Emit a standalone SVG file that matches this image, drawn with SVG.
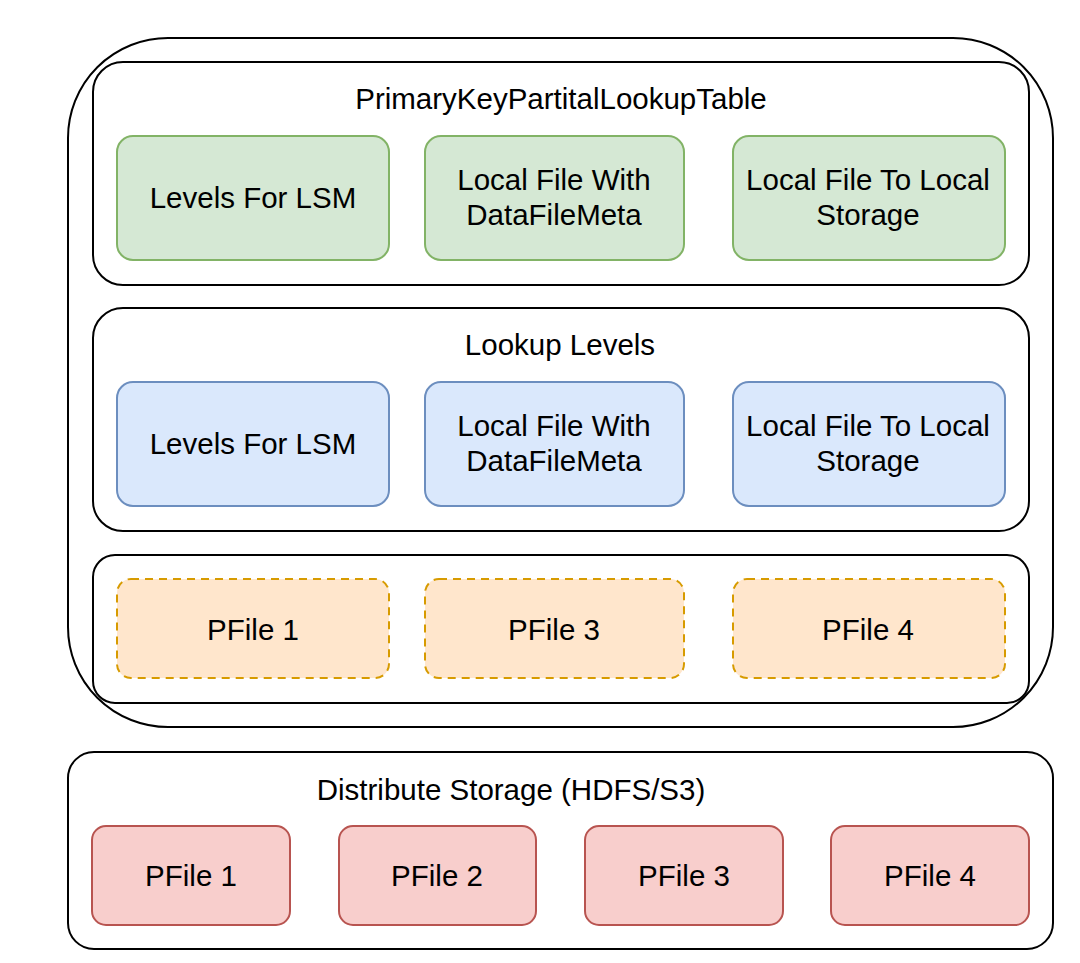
<svg xmlns="http://www.w3.org/2000/svg" width="1080" height="963" viewBox="0 0 1080 963">
<style>
text{font-family:"Liberation Sans",Arial,Helvetica,sans-serif;font-size:29.5px;fill:#000;text-anchor:middle}
.frame{fill:none;stroke:#000;stroke-width:2}
.panel{fill:#fff;stroke:#000;stroke-width:2}
.g{fill:#d5e8d4;stroke:#82b366;stroke-width:2}
.b{fill:#dae8fc;stroke:#6c8ebf;stroke-width:2}
.o{fill:#ffe6cc;stroke:#d79b00;stroke-width:2;stroke-dasharray:8 6}
.r{fill:#f8cecc;stroke:#b85450;stroke-width:2}
</style>
<rect width="1080" height="963" fill="#fff"/>
<g id="outer"><rect class="frame" x="68" y="38" width="985" height="689" rx="100" ry="100"/></g>
<g id="pk-table">
<rect class="panel" x="93" y="62" width="936" height="223" rx="30" ry="30"/>
<text x="561" y="109">PrimaryKeyPartitalLookupTable</text>
</g>
<g id="g1"><rect class="g" x="117" y="136" width="272" height="124" rx="16"/><text x="253" y="208">Levels For LSM</text></g>
<g id="g2"><rect class="g" x="425" y="136" width="259" height="124" rx="16"/><text x="554" y="190">Local File With</text><text x="554" y="225">DataFileMeta</text></g>
<g id="g3"><rect class="g" x="733" y="136" width="272" height="124" rx="16"/><text x="868" y="190">Local File To Local</text><text x="868" y="225">Storage</text></g>
<g id="lookup-levels">
<rect class="panel" x="93" y="308" width="936" height="223" rx="30" ry="30"/>
<text x="560" y="355">Lookup Levels</text>
</g>
<g id="b1"><rect class="b" x="117" y="382" width="272" height="124" rx="16"/><text x="253" y="454">Levels For LSM</text></g>
<g id="b2"><rect class="b" x="425" y="382" width="259" height="124" rx="16"/><text x="554" y="436">Local File With</text><text x="554" y="471">DataFileMeta</text></g>
<g id="b3"><rect class="b" x="733" y="382" width="272" height="124" rx="16"/><text x="868" y="436">Local File To Local</text><text x="868" y="471">Storage</text></g>
<g id="local-files"><rect class="panel" x="93" y="555" width="936" height="148" rx="22" ry="22"/></g>
<g id="o1"><rect class="o" x="117" y="579" width="272" height="99" rx="14"/><text x="253" y="640">PFile 1</text></g>
<g id="o2"><rect class="o" x="425" y="579" width="259" height="99" rx="14"/><text x="554" y="640">PFile 3</text></g>
<g id="o3"><rect class="o" x="733" y="579" width="272" height="99" rx="14"/><text x="868" y="640">PFile 4</text></g>
<g id="distribute-storage">
<rect class="panel" x="68" y="752" width="985" height="197" rx="26" ry="26"/>
<text x="511" y="800">Distribute Storage (HDFS/S3)</text>
</g>
<g id="r1"><rect class="r" x="92" y="826" width="198" height="99" rx="14"/><text x="191" y="886">PFile 1</text></g>
<g id="r2"><rect class="r" x="339" y="826" width="197" height="99" rx="14"/><text x="437" y="886">PFile 2</text></g>
<g id="r3"><rect class="r" x="585" y="826" width="198" height="99" rx="14"/><text x="684" y="886">PFile 3</text></g>
<g id="r4"><rect class="r" x="831" y="826" width="198" height="99" rx="14"/><text x="930" y="886">PFile 4</text></g>
<g id="connectors"></g>
</svg>
